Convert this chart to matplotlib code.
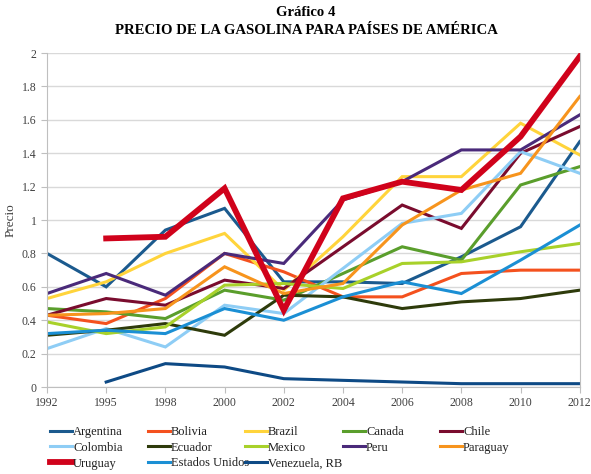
import numpy as np
import matplotlib
matplotlib.use("Agg")
import matplotlib.pyplot as plt

nan = np.nan
years = ['1992', '1995', '1998', '2000', '2002', '2004', '2006', '2008', '2010', '2012']

argentina = [0.80, 0.60, 0.94, 1.07, 0.63, 0.63, 0.62, 0.78, 0.96, 1.47]
bolivia   = [0.43, 0.38, 0.53, 0.80, 0.69, 0.54, 0.54, 0.68, 0.70, 0.70]
brazil    = [0.53, 0.63, 0.80, 0.92, 0.58, 0.90, 1.26, 1.26, 1.58, 1.39]
canada    = [0.47, 0.45, 0.41, 0.58, 0.52, 0.68, 0.84, 0.76, 1.21, 1.32]
chile     = [0.43, 0.53, 0.49, 0.64, 0.59, 0.84, 1.09, 0.95, 1.40, 1.56]
colombia  = [0.23, 0.35, 0.24, 0.49, 0.44, 0.71, 0.98, 1.04, 1.41, 1.28]
ecuador   = [0.31, 0.34, 0.38, 0.31, 0.55, 0.54, 0.47, 0.51, 0.53, 0.58]
mexico    = [0.39, 0.32, 0.36, 0.61, 0.62, 0.59, 0.74, 0.75, 0.81, 0.86]
peru      = [0.56, 0.68, 0.55, 0.80, 0.74, 1.12, 1.23, 1.42, 1.42, 1.63]
paraguay  = [0.43, 0.44, 0.47, 0.72, 0.56, 0.62, 0.97, 1.18, 1.28, 1.74]
uruguay   = [nan, 0.89, 0.90, 1.19, 0.46, 1.13, 1.23, 1.18, 1.50, 1.98]
eeuu      = [0.32, 0.34, 0.32, 0.47, 0.40, 0.54, 0.63, 0.56, 0.76, 0.97]
venezuela = [nan, 0.03, 0.14, 0.12, 0.05, 0.04, 0.03, 0.02, 0.02, 0.02]

series = [
    ("Argentina", argentina, '#1b5a8e', 2.2),
    ("Bolivia", bolivia, '#f4511e', 2.2),
    ("Brazil", brazil, '#ffd43b', 2.2),
    ("Canada", canada, '#5a9e2c', 2.2),
    ("Chile", chile, '#7a0c2e', 2.2),
    ("Colombia", colombia, '#8ecdf5', 2.2),
    ("Ecuador", ecuador, '#2e3b0b', 2.2),
    ("Mexico", mexico, '#a8d12a', 2.2),
    ("Peru", peru, '#4a2a7a', 2.2),
    ("Paraguay", paraguay, '#f7941d', 2.2),
    ("Uruguay", uruguay, '#d0021b', 4.2),
    ("Estados Unidos", eeuu, '#1b8fd4', 2.2),
    ("Venezuela, RB", venezuela, '#0e4a85', 2.2),
]

serif = ['Liberation Serif', 'DejaVu Serif']
plt.rcParams['font.family'] = serif

fig = plt.figure(figsize=(5.91, 4.74), dpi=100)
ax = fig.add_axes([0.0795, 0.1835, 0.9015, 0.7045])

handles = {}
for name, vals, col, lw in series:
    ln, = ax.plot(years, vals, color=col, lw=lw, solid_joinstyle='miter', label=name)
    handles[name] = ln

ax.set_xlim(0, len(years) - 1)
ax.set_ylim(0, 2)
ax.set_yticks(np.arange(0, 2.01, 0.2))
ax.set_yticklabels(['0', '0.2', '0.4', '0.6', '0.8', '1', '1.2', '1.4', '1.6', '1.8', '2'])
ax.grid(axis='y', color='#d9d9d9', lw=1)
ax.set_axisbelow(True)
ax.spines['top'].set_visible(False)
for s in ['left', 'bottom', 'right']:
    ax.spines[s].set_color('#bfbfbf')
ax.tick_params(axis='both', colors='#bfbfbf', labelcolor='#404040', labelsize=8.5, length=4)
ax.set_ylabel('Precio', fontsize=9.5, color='#404040', labelpad=4)

fig.text(0.518, 0.974, 'Gráfico 4', ha='center', va='center', fontsize=10.6, fontweight='bold')
fig.text(0.518, 0.936, 'PRECIO DE LA GASOLINA PARA PAÍSES DE AMÉRICA', ha='center', va='center',
         fontsize=10.6, fontweight='bold')

columns = [["Argentina", "Colombia", "Uruguay"],
           ["Bolivia", "Ecuador", "Estados Unidos"],
           ["Brazil", "Mexico", "Venezuela, RB"],
           ["Canada", "Peru"],
           ["Chile", "Paraguay"]]
col_x = [50, 148, 245, 343, 440]
for cx, names in zip(col_x, columns):
    hs = [handles[n] for n in names]
    leg = fig.legend(hs, names, loc='upper left', bbox_to_anchor=(cx / 591, 1 - 426 / 474),
                     frameon=False, fontsize=9, handlelength=1.75, handletextpad=0.1,
                     labelspacing=0.3, borderaxespad=0, borderpad=0)
    for t in leg.get_texts():
        t.set_color('#202020')

fig.savefig('out.png', dpi=100)
